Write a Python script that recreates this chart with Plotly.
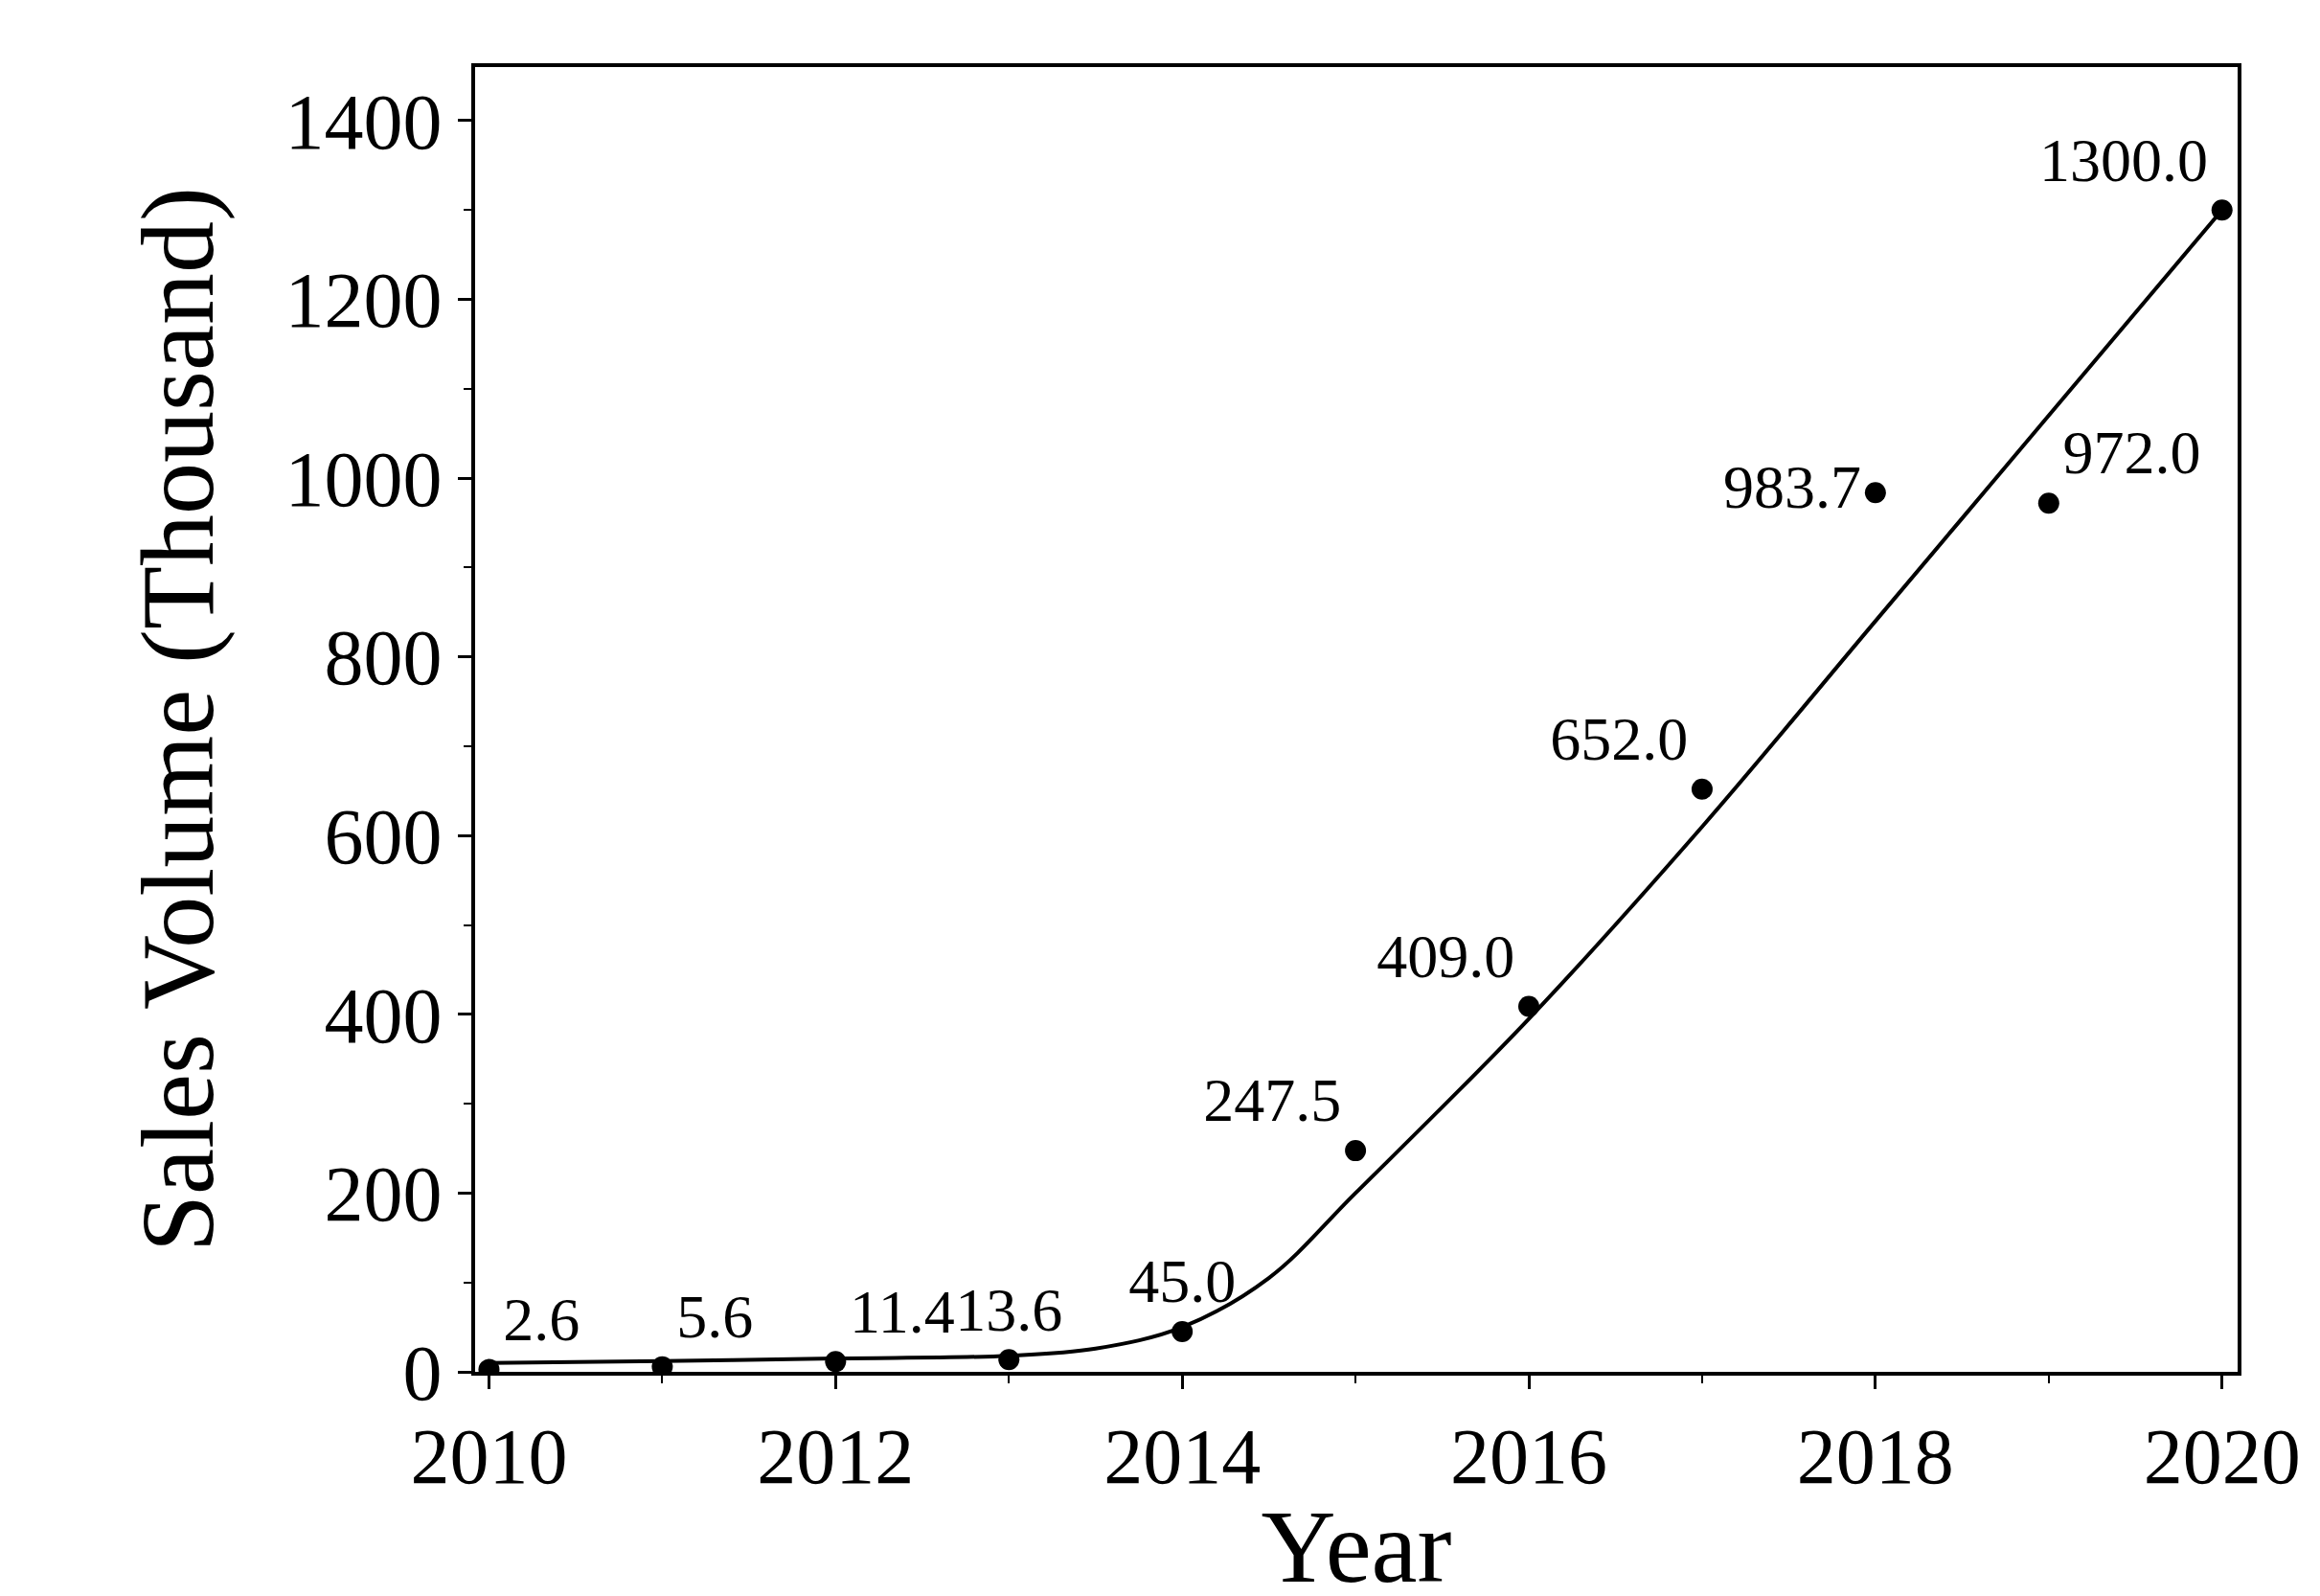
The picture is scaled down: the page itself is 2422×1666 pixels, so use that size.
import plotly.graph_objects as go

years = [2010, 2011, 2012, 2013, 2014, 2015, 2016, 2017, 2018, 2019, 2020]
sales = [2.6, 5.6, 11.4, 13.6, 45.0, 247.5, 409.0, 652.0, 983.7, 972.0, 1300.0]
labels = ["2.6", "5.6", "11.4", "13.6", "45.0", "247.5", "409.0", "652.0", "983.7", "972.0", "1300.0"]
positions = ["top right", "top right", "top right", "top center", "top center", "top left",
             "top left", "top left", "middle left", "top right", "top left"]

fit_x = [2010, 2011, 2012, 2013, 2013.5, 2014, 2014.5, 2015, 2016, 2017, 2018, 2019, 2020]
fit_y = [10, 12, 15, 18, 26, 50, 105, 200, 395, 610, 840, 1070, 1300]

font = "Liberation Serif"
fig = go.Figure()
fig.add_trace(go.Scatter(x=fit_x, y=fit_y, mode="lines", line=dict(color="black", width=4, shape="spline", smoothing=1.0),
                         hoverinfo="skip", showlegend=False))
fig.add_trace(go.Scatter(x=years, y=sales, mode="markers+text", text=labels, textposition=positions,
                         textfont=dict(family=font, size=64, color="black"),
                         marker=dict(color="black", size=22), showlegend=False))

axis_common = dict(showline=True, linecolor="black", linewidth=4, mirror=True, showgrid=False, zeroline=False,
                   ticks="outside", ticklen=14, tickwidth=3, tickcolor="black",
                   tickfont=dict(family=font, size=82, color="black"))
fig.update_xaxes(range=[2009.92, 2020.09], dtick=2, title=dict(text="Year", font=dict(family=font, size=108, color="black"), standoff=0),
                 minor=dict(dtick=1, ticks="outside", ticklen=8, tickwidth=2, tickcolor="black"), **axis_common)
fig.update_yaxes(range=[0, 1460], dtick=200, title=dict(text="Sales Volume (Thousand)", font=dict(family=font, size=108, color="black"), standoff=40),
                 minor=dict(dtick=100, ticks="outside", ticklen=8, tickwidth=2, tickcolor="black"), **axis_common)
fig.update_layout(width=2422, height=1666, plot_bgcolor="white", paper_bgcolor="white",
                  margin=dict(l=488, r=94, t=62, b=242))
fig.write_html("out.html")
